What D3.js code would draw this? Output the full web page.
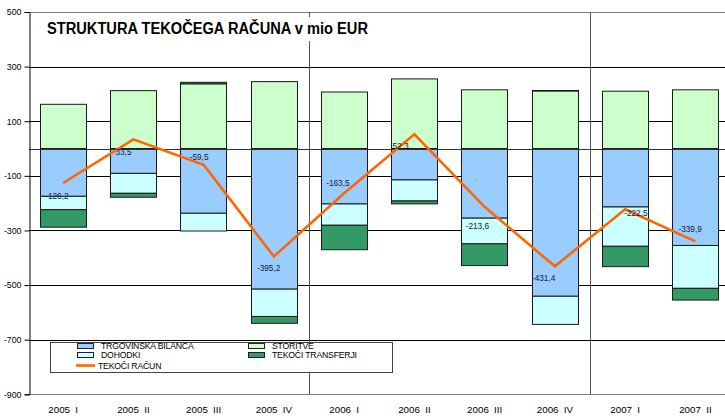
<!DOCTYPE html>
<html lang="sl">
<head>
<meta charset="utf-8">
<title>Struktura tekočega računa</title>
<style>
  body { margin: 0; background: #fff; }
  svg { display: block; font-family: "Liberation Sans", Arial, sans-serif; }
</style>
<script src="https://cdn.jsdelivr.net/npm/d3@7/dist/d3.min.js"></script>
</head>
<body>
<script>
// data (mio EUR)
const quarters   = ['2005 I', '2005 II', '2005 III', '2005 IV', '2006 I', '2006 II', '2006 III', '2006 IV', '2007 I', '2007 II'];
const trgovinska = [-175, -91, -237, -515, -203, -115, -255, -541, -214, -355];
const storitve   = [162, 212, 237, 245, 207, 255, 215, 211, 210, 215];
const dohodki    = [-49, -73, -65, -100, -78, -77, -94, -103, -144, -157];
const transferji = [-64, -14.5, 5.5, -25, -89.5, -10.7, -79.6, 1.6, -74.5, -42.9];
const tekociRacun = [-126.2, 33.5, -59.5, -395.2, -163.5, 52.3, -213.6, -431.4, -222.5, -339.9];
const yTicks = [500, 300, 100, -100, -300, -500, -700, -900];

// label nudges relative to the line point [dx, dy]
const labelNudge = [[-18, 13], [-18, 13], [-14, -8], [-17, 12], [-18, -10], [-22, 12], [-19, 19], [-23, 12], [-1, 4], [-17, -12]];

const W = 725, H = 418;
const mLeft = 29, mRight = 730.5, mTop = 12, mBottom = 394.3;

const series = [
  { key: 'trg', name: 'TRGOVINSKA BILANCA', color: '#99ccff', values: trgovinska },
  { key: 'sto', name: 'STORITVE', color: '#ccffcc', values: storitve },
  { key: 'doh', name: 'DOHODKI', color: '#ccffff', values: dohodki },
  { key: 'tra', name: 'TEKOČI TRANSFERJI', color: '#339966', values: transferji }
];

const rows = quarters.map((q, i) => {
  const r = { q };
  series.forEach(s => r[s.key] = s.values[i]);
  return r;
});

const svg = d3.select('body').append('svg').attr('width', W).attr('height', H);

const x = d3.scaleBand().domain(quarters).range([mLeft - 1, mRight]).paddingInner(0.34).paddingOuter(0.17);
const y = d3.scaleLinear().domain([-900, 500]).range([mBottom, mTop]);

// plain hyphen as minus, comma as decimal sign
const loc = d3.formatLocale({ decimal: ',', thousands: '.', grouping: [3], currency: ['', ' EUR'], minus: '-' });

// grid
svg.append('g').selectAll('line').data(yTicks.filter(t => t > -900 && t < 500)).join('line')
  .attr('x1', mLeft).attr('x2', W).attr('y1', d => Math.round(y(d)) + 0.5).attr('y2', d => Math.round(y(d)) + 0.5)
  .attr('stroke', '#000').attr('stroke-width', 1);

// frame top / bottom
[500, -900].forEach(v => {
  svg.append('line').attr('x1', mLeft).attr('x2', W).attr('y1', Math.round(y(v)) + 0.5).attr('y2', Math.round(y(v)) + 0.5)
    .attr('stroke', '#808080');
});

// year separators
const step = x.step();
const gap = (step - x.bandwidth()) / 2;
['2006 I', '2007 I'].forEach(q => {
  const sx = Math.round(x(q) - gap) + 0.5;
  svg.append('line').attr('x1', sx).attr('x2', sx).attr('y1', y(500)).attr('y2', y(-900)).attr('stroke', '#555');
});

// stacked bars
const stack = d3.stack().keys(series.map(s => s.key)).offset(d3.stackOffsetDiverging);
const layers = stack(rows);

svg.append('g').selectAll('g').data(layers).join('g')
  .attr('fill', (d, i) => series[i].color)
  .selectAll('rect').data(d => d).join('rect')
  .attr('x', d => Math.round(x(d.data.q)) + 0.5)
  .attr('width', Math.round(x.bandwidth()))
  .attr('y', d => y(Math.max(d[0], d[1])))
  .attr('height', d => Math.abs(y(d[0]) - y(d[1])))
  .attr('stroke', '#1a1a1a').attr('stroke-width', 1);

// zero line
svg.append('line').attr('x1', mLeft).attr('x2', W).attr('y1', Math.round(y(0)) + 0.5).attr('y2', Math.round(y(0)) + 0.5)
  .attr('stroke', '#333');

// y axis
const yAxis = svg.append('g').attr('transform', `translate(${mLeft + 0.5},0)`)
  .call(d3.axisLeft(y).tickValues(yTicks).tickSize(5).tickPadding(3).tickFormat(loc.format('d')));
yAxis.select('.domain').attr('stroke', '#000');
yAxis.selectAll('.tick line').attr('stroke', '#000');
yAxis.selectAll('.tick text').attr('font-size', 8.8).attr('fill', '#000').style('font-family', '"Liberation Sans", Arial, sans-serif');

// x labels
svg.append('g').selectAll('text').data(quarters).join('text')
  .attr('x', d => x(d) + x.bandwidth() / 2).attr('y', 413)
  .attr('text-anchor', 'middle').attr('font-size', 9.8).attr('word-spacing', 2.5)
  .text(d => d);

// current account line
const cx = d => x(d) + x.bandwidth() / 2;
svg.append('path').datum(tekociRacun)
  .attr('fill', 'none').attr('stroke', '#ff6600').attr('stroke-width', 2.6).attr('stroke-linejoin', 'miter')
  .attr('d', d3.line().x((d, i) => cx(quarters[i])).y(d => y(d)));

const fmt = loc.format('.1f');
svg.append('g').selectAll('text').data(tekociRacun).join('text')
  .attr('x', (d, i) => cx(quarters[i]) + labelNudge[i][0])
  .attr('y', (d, i) => y(d) + labelNudge[i][1])
  .attr('dy', '0.35em').attr('font-size', 8.3).attr('fill', '#1a1a33')
  .text(fmt);

// title
svg.append('rect').attr('x', 40).attr('y', 17).attr('width', 334).attr('height', 24).attr('fill', '#fff');
svg.append('text').attr('x', 47).attr('y', 33.5).attr('font-size', 16).attr('font-weight', 'bold')
  .attr('textLength', 321).attr('lengthAdjust', 'spacingAndGlyphs')
  .text('STRUKTURA TEKOČEGA RAČUNA v mio EUR');

// legend
const lg = svg.append('g');
lg.append('rect').attr('x', 50.5).attr('y', 342.5).attr('width', 342).attr('height', 30)
  .attr('fill', '#fff').attr('stroke', '#444');
const legendItems = [
  { s: series[0], lx: 77, ly: 346 },
  { s: series[2], lx: 77, ly: 355 },
  { s: series[1], lx: 248, ly: 346 },
  { s: series[3], lx: 248, ly: 355 }
];
legendItems.forEach(it => {
  lg.append('rect').attr('x', it.lx + 0.5).attr('y', it.ly - 2.5).attr('width', 16).attr('height', 5)
    .attr('fill', it.s.color).attr('stroke', '#222');
  lg.append('text').attr('x', it.lx + 24).attr('y', it.ly).attr('dy', '0.35em')
    .attr('font-size', 8.7).attr('letter-spacing', -0.2).text(it.s.name);
});
lg.append('line').attr('x1', 76).attr('x2', 95).attr('y1', 365.5).attr('y2', 365.5)
  .attr('stroke', '#ff6600').attr('stroke-width', 2.6);
lg.append('text').attr('x', 98).attr('y', 366).attr('dy', '0.35em')
  .attr('font-size', 8.7).attr('letter-spacing', -0.2).text('TEKOČI RAČUN');
</script>
</body>
</html>
